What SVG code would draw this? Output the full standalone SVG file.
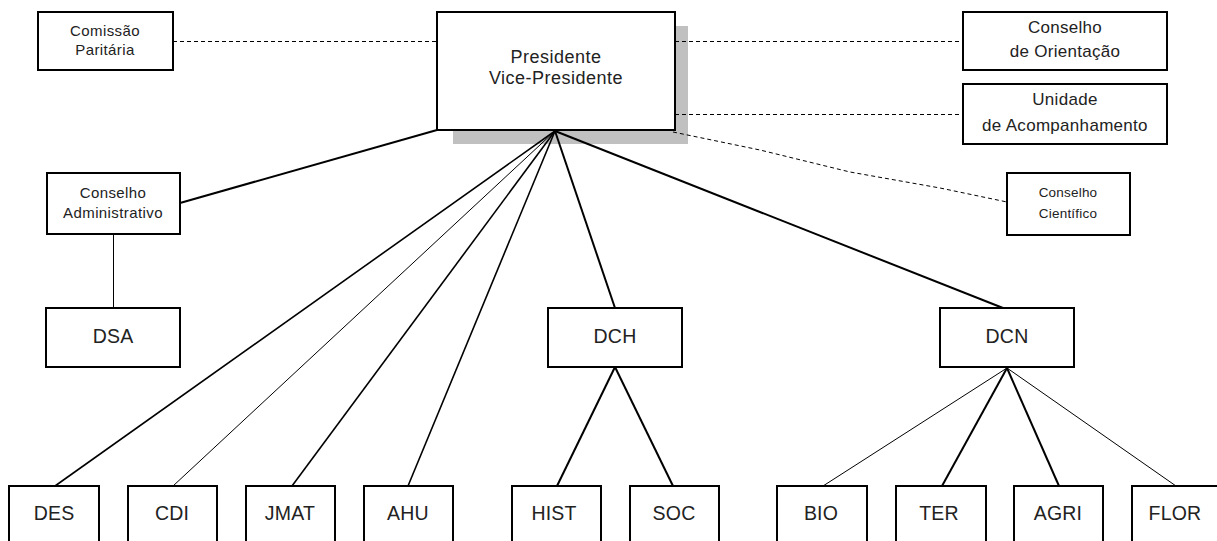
<svg xmlns="http://www.w3.org/2000/svg" width="1217" height="541" viewBox="0 0 1217 541">
<style>
.box{fill:#fff;stroke:#000;stroke-width:2}
.t{font-family:"Liberation Sans",Arial,sans-serif;fill:#222;text-anchor:middle}
.s20{font-size:19.5px;letter-spacing:0.2px}
.s18{font-size:18px;letter-spacing:0.5px}
.s17{font-size:17px;letter-spacing:0.3px}
.s15{font-size:15px;letter-spacing:0.4px}
.s13{font-size:13.5px;letter-spacing:0.2px}
.thick{stroke:#000;stroke-width:2;fill:none}
.mid{stroke:#000;stroke-width:1.6;fill:none}
.thin{stroke:#000;stroke-width:1;fill:none}
.dash{stroke:#000;stroke-width:1;stroke-dasharray:4 3;fill:none}
</style>
<rect width="1217" height="541" fill="#fff"/>
<rect x="453" y="26" width="235" height="118" fill="#c0c0c0"/>
<g id="connectors">
<line class="dash" x1="173" y1="41.5" x2="437" y2="41.5"/>
<line class="dash" x1="675" y1="41.5" x2="963" y2="41.5"/>
<line class="dash" x1="675" y1="114.5" x2="963" y2="114.5"/>
<polyline class="dash" points="673,132 760,150 850,172 940,188 1007,202"/>
<line class="thick" x1="437" y1="130" x2="180" y2="203"/>
<line class="thin" x1="113.5" y1="234" x2="113.5" y2="308"/>
<line class="mid" x1="555" y1="131" x2="55" y2="486"/>
<line class="thin" x1="555" y1="131" x2="173" y2="486"/>
<line class="mid" x1="555" y1="131" x2="292" y2="486"/>
<line class="mid" x1="555" y1="131" x2="408" y2="486"/>
<line class="thick" x1="555" y1="131" x2="615" y2="308"/>
<line class="thick" x1="555" y1="131" x2="1003" y2="308"/>
<line class="thick" x1="615" y1="367" x2="557" y2="486"/>
<line class="thick" x1="615" y1="367" x2="673" y2="486"/>
<line class="thin" x1="1007" y1="368" x2="823" y2="486"/>
<line class="thick" x1="1007" y1="368" x2="942" y2="486"/>
<line class="thick" x1="1007" y1="368" x2="1059" y2="486"/>
<line class="thin" x1="1007" y1="368" x2="1176" y2="486"/>
</g>
<g id="presidente"><rect class="box" x="437" y="12" width="238" height="118"/><text class="t s18" x="556" y="63">Presidente</text><text class="t s18" x="556" y="84">Vice-Presidente</text></g>
<g id="comissao"><rect class="box" x="38" y="12" width="135" height="58"/><text class="t s15" x="105" y="36">Comissão</text><text class="t s15" x="105" y="55">Paritária</text></g>
<g id="orientacao"><rect class="box" x="963" y="12" width="204" height="58"/><text class="t s17" x="1065" y="33">Conselho</text><text class="t s17" x="1065" y="57">de Orientação</text></g>
<g id="unidade"><rect class="box" x="963" y="84" width="204" height="60"/><text class="t s17" x="1065" y="105">Unidade</text><text class="t s17" x="1065" y="131">de Acompanhamento</text></g>
<g id="cientifico"><rect class="box" x="1007" y="173" width="123" height="62"/><text class="t s13" x="1068" y="197">Conselho</text><text class="t s13" x="1068" y="218">Científico</text></g>
<g id="administrativo"><rect class="box" x="47" y="173" width="133" height="61"/><text class="t s15" x="113" y="198">Conselho</text><text class="t s15" x="113" y="218">Administrativo</text></g>
<g id="dsa"><rect class="box" x="46" y="308" width="134" height="59"/><text class="t s20" x="113" y="343">DSA</text></g>
<g id="dch"><rect class="box" x="548" y="308" width="134" height="59"/><text class="t s20" x="615" y="343">DCH</text></g>
<g id="dcn"><rect class="box" x="940" y="308" width="134" height="59"/><text class="t s20" x="1007" y="343">DCN</text></g>
<g id="des"><rect class="box" x="9" y="486" width="90" height="70"/><text class="t s20" x="54" y="520">DES</text></g>
<g id="cdi"><rect class="box" x="128" y="486" width="89" height="70"/><text class="t s20" x="172" y="520">CDI</text></g>
<g id="jmat"><rect class="box" x="246" y="486" width="89" height="70"/><text class="t s20" x="290" y="520">JMAT</text></g>
<g id="ahu"><rect class="box" x="364" y="486" width="89" height="70"/><text class="t s20" x="408" y="520">AHU</text></g>
<g id="hist"><rect class="box" x="512" y="486" width="89" height="70"/><text class="t s20" x="554" y="520">HIST</text></g>
<g id="soc"><rect class="box" x="630" y="486" width="89" height="70"/><text class="t s20" x="674" y="520">SOC</text></g>
<g id="bio"><rect class="box" x="777" y="486" width="90" height="70"/><text class="t s20" x="821" y="520">BIO</text></g>
<g id="ter"><rect class="box" x="896" y="486" width="90" height="70"/><text class="t s20" x="939" y="520">TER</text></g>
<g id="agri"><rect class="box" x="1014" y="486" width="89" height="70"/><text class="t s20" x="1058" y="520">AGRI</text></g>
<g id="flor"><rect class="box" x="1132" y="486" width="90" height="70"/><text class="t s20" x="1175" y="520">FLOR</text></g>
</svg>
